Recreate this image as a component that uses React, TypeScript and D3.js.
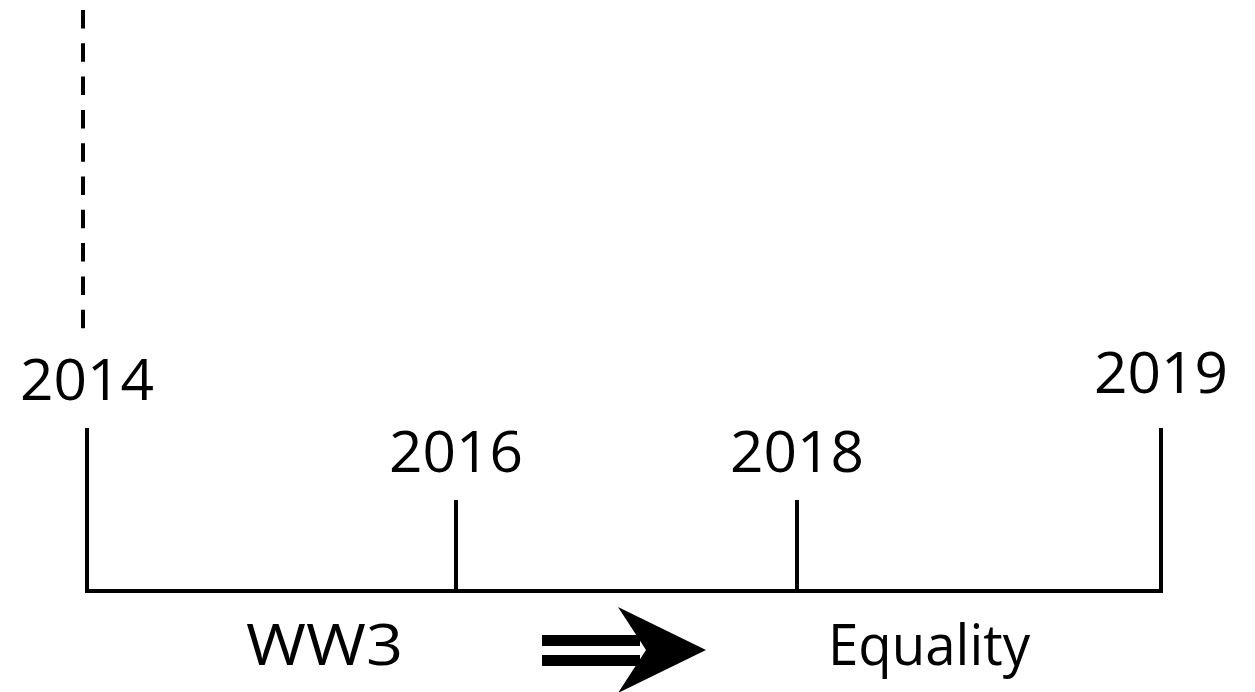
import React from "react";
import * as d3 from "d3";

// ---- data ----
const years: number[] = [2014, 2016, 2018, 2019];
const yearLabels: string[] = ["2014", "2016", "2018", "2019"];
const tickLevels: number[] = [2, 1, 1, 2]; // tall ticks at the ends, short in between
const labelLift: number[] = [0, 0, 0, 7]; // the 2019 label sits a little higher
const phaseLabels: string[] = ["WW3", "Equality"];

const W = 1255;
const H = 692;
const FONT = "'Open Sans', 'DejaVu Sans', sans-serif";

export default function App() {
  const x = d3.scaleLinear().domain(years).range([87, 456, 797, 1161]);
  const y = d3.scaleLinear().domain([0, 1, 2]).range([591, 500, 428]);
  const baseY = y(0);

  const dashX = x(2014) - 4;
  const dashTop = 10;
  const dashBottom = 331;

  const labelOffset = 28;

  // arrow geometry between the two phase labels
  const ax0 = 542;
  const ax1 = 706;
  const ay = 650;
  const headBack = 618;
  const notch = 646;
  const headHalf = 43;
  const arrowHead = d3.line()([
    [headBack, ay - headHalf],
    [ax1, ay],
    [headBack, ay + headHalf],
    [notch, ay],
  ]) + "Z";

  return (
    <svg
      width={W}
      height={H}
      viewBox={`0 0 ${W} ${H}`}
      style={{ position: "absolute", left: 0, top: 0, background: "#fff" }}
    >
      <rect x={0} y={0} width={W} height={H} fill="#fff" />
      {/* dashed vertical guide */}
      <line
        x1={dashX}
        x2={dashX}
        y1={dashTop}
        y2={dashBottom}
        stroke="#000"
        strokeWidth={4}
        strokeDasharray="18.5 14.8"
      />
      {/* baseline */}
      <line
        x1={x(2014) - 2}
        x2={x(2019) + 2}
        y1={baseY}
        y2={baseY}
        stroke="#000"
        strokeWidth={4}
      />
      {years.map((yr, i) => (
        <g key={yr}>
          <line
            x1={x(yr)}
            x2={x(yr)}
            y1={baseY}
            y2={y(tickLevels[i])}
            stroke="#000"
            strokeWidth={4}
          />
          <text
            x={x(yr)}
            y={y(tickLevels[i]) - labelOffset - labelLift[i]}
            textAnchor="middle"
            fontFamily={FONT}
            fontSize={56}
            textLength={134}
            lengthAdjust="spacingAndGlyphs"
            fill="#000"
          >
            {yearLabels[i]}
          </text>
        </g>
      ))}
      {/* phase labels */}
      <text
        x={246}
        y={665}
        fontFamily={FONT}
        fontSize={56}
        textLength={157}
        lengthAdjust="spacingAndGlyphs"
        fill="#000"
      >
        {phaseLabels[0]}
      </text>
      <text
        x={828}
        y={665}
        fontFamily={FONT}
        fontSize={56}
        textLength={202}
        lengthAdjust="spacingAndGlyphs"
        fill="#000"
      >
        {phaseLabels[1]}
      </text>
      {/* double-shaft arrow */}
      <rect x={ax0} y={635} width={98} height={11} fill="#000" />
      <rect x={ax0} y={655} width={98} height={11} fill="#000" />
      <path d={arrowHead} fill="#000" />
    </svg>
  );
}
